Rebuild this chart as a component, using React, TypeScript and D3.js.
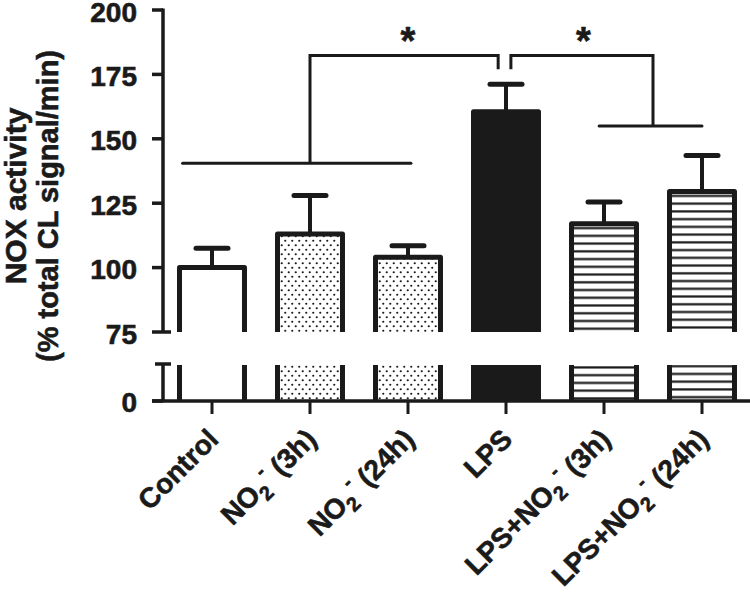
import React from "react";
import * as d3 from "d3";

// ---------- data ----------
const categories = ["Control", "NO2- (3h)", "NO2- (24h)", "LPS", "LPS+NO2- (3h)", "LPS+NO2- (24h)"];
const labelPre = ["Control", "NO", "NO", "LPS", "LPS+NO", "LPS+NO"];
const labelPost = ["", " (3h)", " (24h)", "", " (3h)", " (24h)"];
const means = [100, 113, 104, 160.5, 117, 129.5];
const sems = [7.5, 15, 4.5, 10.7, 8.5, 14];
const upperTicks = [75, 100, 125, 150, 175, 200];
const lowerTicks = [0];
const yTitle1 = "NOX activity";
const yTitle2 = "(% total CL signal/min)";
// significance brackets (category index positions, values)
const groupLines = [
  { from: -0.3, to: 2.03, value: 140.5 },
  { from: 3.95, to: 5.0, value: 155 },
];
const brackets = [
  { x1: 1.0, x2: 2.92, v1: 140.5, v2: 177, top: 182.3 },
  { x1: 3.05, x2: 4.5, v1: 177, v2: 155, top: 182.3 },
];
const starPos = [2.0, 3.79];

// ---------- styles ----------
const INK = "#1a1a1a";
const FONT = "'Liberation Sans', Arial, Helvetica, sans-serif";
const fillKinds = ["white", "dots", "dots", "solid", "lines", "lines"];
const TXT = { fill: INK, stroke: INK, strokeWidth: 0.6, fontWeight: "bold" as const };

export default function App() {
  const W = 750, H = 592;
  const axisX = 163;
  const x = d3.scaleBand<string>().domain(categories).range([axisX, 751]).paddingInner(0.337).paddingOuter(0.1685);
  const y = d3.scaleLinear().domain([75, 200]).range([332, 10]);
  const yLow = d3.scaleLinear().domain([0, 10]).range([401, 365]);
  const step = x.step();
  const cx = (i: number) => (x(categories[0]) as number) + x.bandwidth() / 2 + i * step;
  const bw = x.bandwidth();
  const baseUpper = y(75);
  const lowTop = yLow(10);
  const lowBase = yLow(0);

  const fillFor = (i: number) => {
    const k = fillKinds[i];
    if (k === "white") return "white";
    if (k === "dots") return "url(#dots)";
    if (k === "solid") return INK;
    return `url(#lines-${i})`;
  };

  return (
    <svg width={W} height={H} style={{ position: "absolute", left: 0, top: 0, background: "white" }} fontFamily={FONT}>
      <defs>
        <pattern id="dots" patternUnits="userSpaceOnUse" width={7} height={9}>
          <rect width={7} height={9} fill="white" />
          <circle cx={1.75} cy={2.25} r={1.1} fill={INK} />
          <circle cx={5.25} cy={6.75} r={1.1} fill={INK} />
        </pattern>
        {categories.map((c, i) =>
          fillKinds[i] === "lines" ? (
            <pattern key={c} id={`lines-${i}`} patternUnits="userSpaceOnUse" width={10} height={7.74}
              patternTransform={`translate(0, ${y(means[i])})`}>
              <rect width={10} height={7.74} fill="white" />
              <rect y={3.2} width={10} height={2.2} fill={INK} />
            </pattern>
          ) : null
        )}
      </defs>

      {/* bars */}
      {categories.map((c, i) => {
        const xl = x(c) as number;
        const top = y(means[i]);
        const errTop = y(means[i] + sems[i]);
        const mid = xl + bw / 2;
        return (
          <g key={c}>
            <line x1={mid} x2={mid} y1={top} y2={errTop} stroke={INK} strokeWidth={4} />
            <line x1={mid - 16} x2={mid + 16} y1={errTop} y2={errTop} stroke={INK} strokeWidth={5} strokeLinecap="round" />
            <rect x={xl} y={top} width={bw} height={baseUpper - top} fill={fillFor(i)} />
            <path d={`M${xl},${baseUpper}V${top}H${xl + bw}V${baseUpper}`} fill="none" stroke={INK} strokeWidth={5} strokeLinejoin="round" />
            <rect x={xl} y={lowTop} width={bw} height={lowBase - lowTop} fill={fillFor(i)} />
            <path d={`M${xl},${lowTop}V${lowBase}M${xl + bw},${lowTop}V${lowBase}`} fill="none" stroke={INK} strokeWidth={5} />
          </g>
        );
      })}

      {/* y axis upper */}
      <line x1={axisX} x2={axisX} y1={y(200) - 1.5} y2={y(75)} stroke={INK} strokeWidth={3.5} />
      {upperTicks.map((t) => (
        <g key={t}>
          <line x1={axisX - 11} x2={t === 75 ? axisX + 8 : axisX} y1={y(t)} y2={y(t)} stroke={INK} strokeWidth={3.5} />
          <text x={137} y={y(t) + 11.5} textAnchor="end" fontSize={28} {...TXT}>{t}</text>
        </g>
      ))}
      {/* y axis lower */}
      <line x1={axisX} x2={axisX} y1={lowTop - 1} y2={lowBase} stroke={INK} strokeWidth={3.5} />
      <line x1={axisX - 8} x2={axisX + 8} y1={lowTop - 1} y2={lowTop - 1} stroke={INK} strokeWidth={3.5} />
      {lowerTicks.map((t) => (
        <g key={t}>
          <line x1={axisX - 11} x2={axisX} y1={yLow(t)} y2={yLow(t)} stroke={INK} strokeWidth={3.5} />
          <text x={137} y={yLow(t) + 11} textAnchor="end" fontSize={28} {...TXT}>{t}</text>
        </g>
      ))}

      {/* x axis */}
      <line x1={axisX - 11} x2={W} y1={lowBase} y2={lowBase} stroke={INK} strokeWidth={3.5} />
      {categories.map((c, i) => {
        const mid = (x(c) as number) + bw / 2;
        const ax = mid + 8, ay = 441;
        const hasSub = labelPost[i] !== "";
        return (
          <g key={c}>
            <line x1={mid} x2={mid} y1={lowBase} y2={lowBase + 13} stroke={INK} strokeWidth={3} />
            <text x={ax} y={ay} transform={`rotate(-45 ${ax} ${ay})`} textAnchor="end" fontSize={28} {...TXT}>
              <tspan>{labelPre[i]}</tspan>
              {hasSub && <tspan fontSize={20} dy={7}>2</tspan>}
              {hasSub && <tspan fontSize={20} dy={-20} dx={2}>-</tspan>}
              {hasSub && <tspan fontSize={28} dy={13}>{labelPost[i]}</tspan>}
            </text>
          </g>
        );
      })}

      {/* y title */}
      <text transform={`translate(26, 196) rotate(-90)`} textAnchor="middle" fontSize={30} {...TXT}>{yTitle1}</text>
      <text transform={`translate(58, 206) rotate(-90)`} textAnchor="middle" fontSize={29} {...TXT}>{yTitle2}</text>

      {/* significance */}
      {groupLines.map((g, i) => (
        <line key={i} x1={cx(g.from)} x2={cx(g.to)} y1={y(g.value)} y2={y(g.value)} stroke={INK} strokeWidth={3} strokeLinecap="round" />
      ))}
      {brackets.map((b, i) => (
        <path key={i} d={`M${cx(b.x1)},${y(b.v1)}V${y(b.top)}H${cx(b.x2)}V${y(b.v2)}`} fill="none" stroke={INK} strokeWidth={3} />
      ))}
      {starPos.map((p, i) => (
        <text key={i} x={cx(p)} y={54} textAnchor="middle" fontSize={38} {...TXT}>*</text>
      ))}
    </svg>
  );
}
